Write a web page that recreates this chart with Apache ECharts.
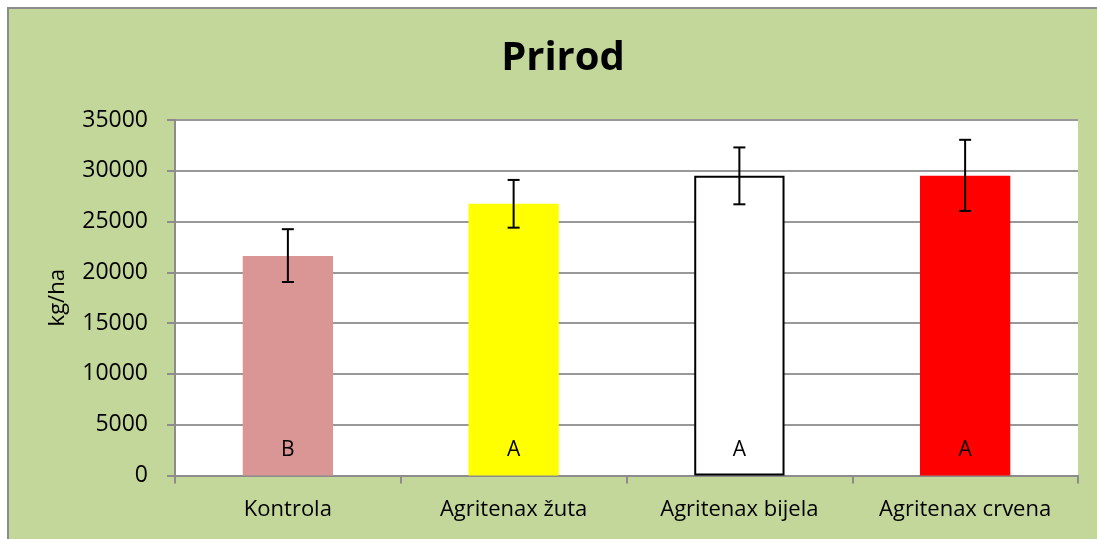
<!DOCTYPE html>
<html>
<head>
<meta charset="utf-8">
<script src="https://cdn.jsdelivr.net/npm/echarts@6/dist/echarts.min.js"></script>
<style>
  html, body { margin: 0; padding: 0; background: #fff; }
  #main { width: 1097px; height: 539px; }
</style>
</head>
<body>
<div id="main"></div>
<script>
var categories = ['Kontrola', 'Agritenax žuta', 'Agritenax bijela', 'Agritenax crvena'];
var yields = [21600, 26750, 29500, 29500];
var errLow = [19050, 24400, 26700, 26050];
var errHigh = [24250, 29100, 32300, 33050];
var letters = ['B', 'A', 'A', 'A'];
var barColors = ['#D99694', '#FFFF00', '#FFFFFF', '#FF0000'];

var chartDom = document.getElementById('main');
var myChart = echarts.init(chartDom);
var font = 'Open Sans';

var barData = yields.map(function (v, i) {
  var item = { value: v, itemStyle: { color: barColors[i] } };
  if (i == 2) {
    item.itemStyle.borderColor = '#000';
    item.itemStyle.borderWidth = 2;
  }
  return item;
});

var errData = yields.map(function (v, i) {
  return [i, errLow[i], errHigh[i]];
});

var option = {
  backgroundColor: '#fff',
  animation: false,
  graphic: [{
    type: 'rect',
    z: -10,
    shape: { x: 8, y: 8, width: 1200, height: 600 },
    style: { fill: '#C4D79B', stroke: '#8C8C8C', lineWidth: 2 }
  }],
  title: {
    text: 'Prirod',
    left: 558,
    top: 34,
    textAlign: 'center',
    textStyle: { fontFamily: font, fontSize: 40, fontWeight: 'bold', color: '#000' }
  },
  grid: { left: 175, right: 19, top: 120, bottom: 63.5, containLabel: false, show: true, backgroundColor: '#fff', borderWidth: 0 },
  xAxis: {
    type: 'category',
    data: categories,
    axisLine: { lineStyle: { color: '#8C8C8C', width: 2 } },
    axisTick: { show: true, length: 8, lineStyle: { color: '#8C8C8C', width: 2 } },
    axisLabel: { color: '#000', fontFamily: font, fontSize: 22, margin: 23 }
  },
  yAxis: {
    type: 'value',
    min: 0,
    max: 35000,
    interval: 5000,
    name: 'kg/ha',
    nameLocation: 'middle',
    nameGap: 106,
    nameTextStyle: { color: '#000', fontFamily: font, fontSize: 22 },
    axisLine: { show: true, lineStyle: { color: '#8C8C8C', width: 2 } },
    axisTick: { show: true, length: 8, lineStyle: { color: '#8C8C8C', width: 2 } },
    axisLabel: { color: '#000', fontFamily: font, fontSize: 23, margin: 27, formatter: function (v) { return String(v); } },
    splitLine: { lineStyle: { color: '#989898', width: 2 } }
  },
  series: [
    {
      name: 'Prirod',
      type: 'bar',
      barWidth: '40%',
      data: barData,
      label: {
        show: true,
        position: 'insideBottom',
        distance: 15,
        color: '#000',
        fontFamily: font,
        fontSize: 21,
        formatter: function (p) { return letters[p.dataIndex]; }
      }
    },
    {
      name: 'err',
      type: 'custom',
      z: 10,
      data: errData,
      renderItem: function (params, api) {
        var x = api.value(0);
        var lo = api.coord([x, api.value(1)]);
        var hi = api.coord([x, api.value(2)]);
        var w = 6;
        var st = { stroke: '#000', lineWidth: 2 };
        return {
          type: 'group',
          children: [
            { type: 'line', shape: { x1: lo[0], y1: lo[1], x2: hi[0], y2: hi[1] }, style: st },
            { type: 'line', shape: { x1: lo[0] - w, y1: lo[1], x2: lo[0] + w, y2: lo[1] }, style: st },
            { type: 'line', shape: { x1: hi[0] - w, y1: hi[1], x2: hi[0] + w, y2: hi[1] }, style: st }
          ]
        };
      }
    }
  ]
};
option && myChart.setOption(option);
</script>
</body>
</html>
